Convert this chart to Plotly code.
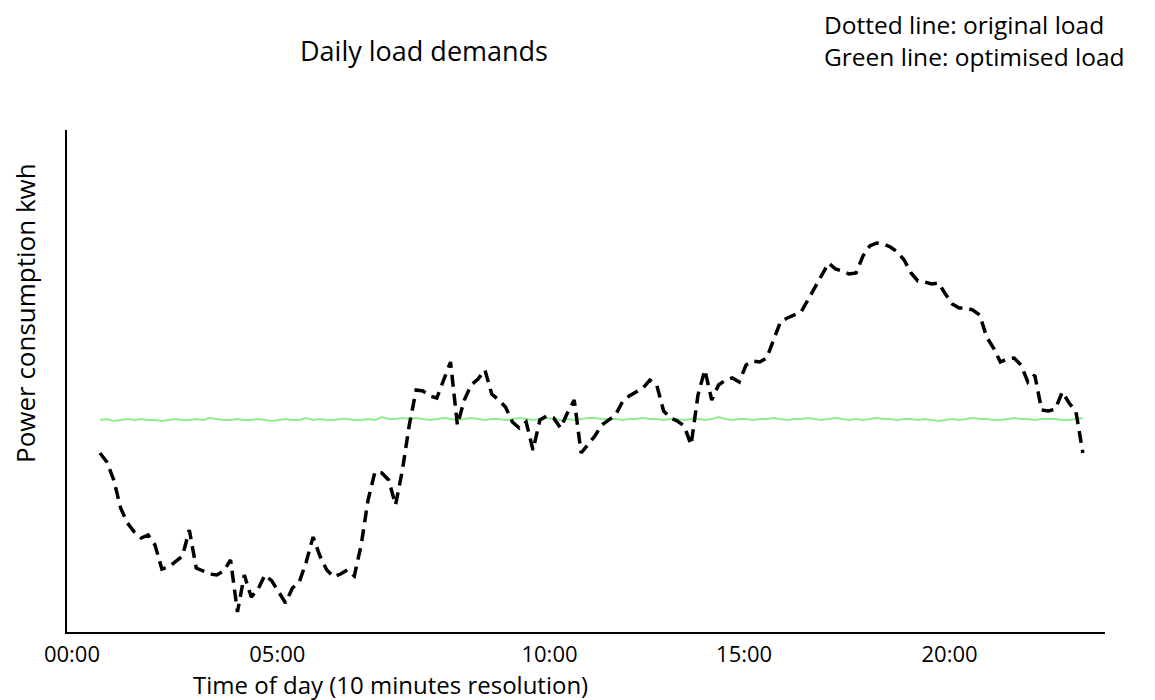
import plotly.graph_objects as go

# 10-minute samples, hours of day
hours = [i / 6 for i in range(144)]

original_load = [
    1.79, 1.70, 1.52, 1.24, 1.09, 1.00, 0.94, 0.97, 0.87, 0.63, 0.65, 0.71,
    0.76, 1.02, 0.64, 0.61, 0.58, 0.57, 0.61, 0.72, 0.20, 0.57, 0.35, 0.43,
    0.57, 0.51, 0.40, 0.29, 0.44, 0.50, 0.70, 0.95, 0.76, 0.62, 0.55, 0.58,
    0.62, 0.56, 0.87, 1.32, 1.60, 1.59, 1.52, 1.27, 1.62, 2.07, 2.42, 2.41,
    2.36, 2.34, 2.52, 2.70, 2.07, 2.32, 2.47, 2.53, 2.62, 2.38, 2.32, 2.25,
    2.10, 2.04, 2.10, 1.82, 2.12, 2.16, 2.14, 2.04, 2.19, 2.32, 1.79, 1.88,
    1.96, 2.07, 2.12, 2.17, 2.30, 2.36, 2.40, 2.44, 2.52, 2.47, 2.21, 2.14,
    2.11, 2.06, 1.87, 2.37, 2.62, 2.32, 2.47, 2.52, 2.54, 2.50, 2.67, 2.71,
    2.70, 2.74, 2.92, 3.10, 3.14, 3.17, 3.20, 3.32, 3.44, 3.57, 3.69, 3.63,
    3.61, 3.58, 3.59, 3.76, 3.86, 3.89, 3.88, 3.85, 3.80, 3.72, 3.59, 3.51,
    3.50, 3.48, 3.49, 3.38, 3.28, 3.24, 3.24, 3.22, 3.17, 2.95, 2.84, 2.70,
    2.73, 2.74, 2.67, 2.50, 2.57, 2.22, 2.21, 2.23, 2.40, 2.29, 2.20, 1.79,
]

optimised_load = [
    2.12, 2.13, 2.11, 2.12, 2.13, 2.12, 2.13, 2.12, 2.12, 2.11, 2.12, 2.13,
    2.12, 2.12, 2.13, 2.12, 2.14, 2.13, 2.12, 2.12, 2.13, 2.12, 2.12, 2.13,
    2.12, 2.11, 2.12, 2.13, 2.12, 2.12, 2.14, 2.12, 2.13, 2.12, 2.12, 2.13,
    2.13, 2.12, 2.12, 2.13, 2.12, 2.15, 2.13, 2.13, 2.14, 2.13, 2.14, 2.13,
    2.12, 2.13, 2.14, 2.13, 2.12, 2.13, 2.14, 2.13, 2.12, 2.13, 2.13, 2.12,
    2.13, 2.14, 2.13, 2.12, 2.13, 2.14, 2.13, 2.12, 2.13, 2.12, 2.13, 2.14,
    2.14, 2.13, 2.13, 2.13, 2.12, 2.13, 2.13, 2.14, 2.13, 2.13, 2.12, 2.13,
    2.13, 2.12, 2.13, 2.13, 2.12, 2.13, 2.15, 2.13, 2.12, 2.13, 2.13, 2.12,
    2.13, 2.13, 2.14, 2.13, 2.12, 2.13, 2.13, 2.14, 2.13, 2.12, 2.13, 2.14,
    2.13, 2.12, 2.13, 2.12, 2.13, 2.14, 2.13, 2.13, 2.12, 2.13, 2.13, 2.12,
    2.13, 2.12, 2.11, 2.12, 2.13, 2.12, 2.13, 2.14, 2.13, 2.13, 2.12, 2.12,
    2.13, 2.14, 2.13, 2.13, 2.12, 2.13, 2.13, 2.13, 2.12, 2.12, 2.13, 2.14,
]

# label positions as they sit under the axis in the original figure
tick_pos = [-0.68, 4.3, 10.9, 15.62, 20.6]
tick_text = ["00:00", "05:00", "10:00", "15:00", "20:00"]

FONT = "Open Sans, sans-serif"

fig = go.Figure()

fig.add_trace(go.Scatter(
    x=hours, y=optimised_load, mode="lines",
    line=dict(color="#90EE90", width=2),
    name="Optimised load",
))

fig.add_trace(go.Scatter(
    x=hours, y=original_load, mode="lines",
    line=dict(color="black", width=3.5, dash="12px,7px"),
    name="Original load",
))

# page has an 8px body margin, so the figure itself is 8px smaller
fig.update_layout(
    width=1147, height=692,
    margin=dict(l=59, r=50, t=122, b=68),
    paper_bgcolor="white", plot_bgcolor="white",
    showlegend=False,
    font=dict(family=FONT, size=24, color="black"),
    title=dict(text="Daily load demands", x=(424 - 8) / 1147, xanchor="center",
               y=1 - (52 - 8) / 692, yanchor="middle",
               font=dict(family=FONT, size=27, color="black")),
)

fig.update_xaxes(
    range=[-0.8, 24.37], showgrid=False, zeroline=False,
    showline=True, linecolor="black", linewidth=1.5,
    tickmode="array", tickvals=tick_pos, ticktext=tick_text,
    ticks="", ticklen=0, ticklabelstandoff=2,
    tickfont=dict(family=FONT, size=22, color="black"),
)
fig.update_yaxes(
    range=[0, 5.02], showgrid=False, zeroline=False,
    showline=True, linecolor="black", linewidth=1.5,
    showticklabels=False, ticks="",
)


def px(x):
    return (x - 67) / 1038


def py(y):
    return (632 - y) / 502


fig.add_annotation(text="Dotted line: original load<br>Green line: optimised load",
                   xref="paper", yref="paper", x=px(822), y=py(41),
                   xanchor="left", yanchor="middle", align="left",
                   showarrow=False, font=dict(family=FONT, size=24.5))
fig.add_annotation(text="Power consumption kwh", xref="paper", yref="paper",
                   x=px(25), y=py(313), textangle=-90,
                   xanchor="center", yanchor="middle", showarrow=False,
                   font=dict(family=FONT, size=26))
fig.add_annotation(text="Time of day (10 minutes resolution)", xref="paper", yref="paper",
                   x=px(390), y=py(684), xanchor="center", yanchor="middle",
                   showarrow=False, font=dict(family=FONT, size=24))

fig.write_html("out.html")
